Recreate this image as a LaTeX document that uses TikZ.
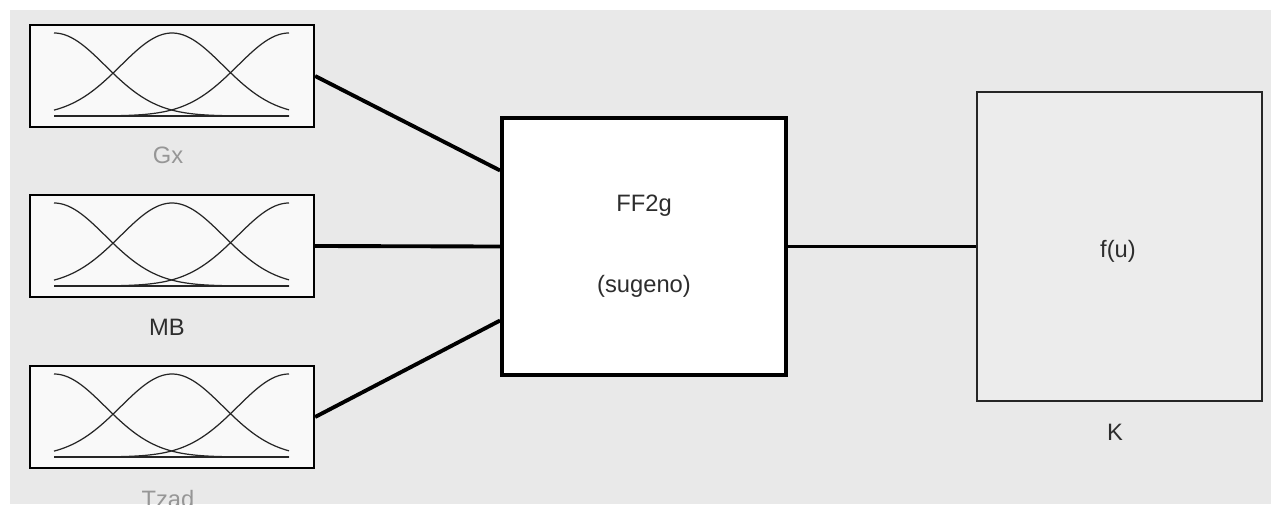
\documentclass[tikz,border=0pt]{standalone}
\usepackage{fontspec}
\setmainfont{Liberation Sans}
\usepackage{xcolor}
\usepackage{tikz}
\usetikzlibrary{positioning,calc}
\definecolor{bgcolor}{RGB}{233,233,233}
\definecolor{boxcolor}{RGB}{249,249,249}
\definecolor{fcolor}{RGB}{236,236,236}
\definecolor{dimtext}{RGB}{150,150,150}
\definecolor{darktext}{RGB}{45,45,45}

\begin{document}
\begin{tikzpicture}[x=0.02cm, y=-0.02cm,
  inbox/.style={draw, fill=boxcolor, line width=1.3pt, minimum width=5.68cm, minimum height=2.04cm, inner sep=0pt},
  fisbox/.style={draw, fill=white, line width=2.2pt, minimum width=5.68cm, minimum height=5.14cm, inner sep=0pt, align=center, font=\fontsize{13.5}{16}\selectfont, text=darktext},
  fbox/.style={draw, draw=black!85, fill=fcolor, line width=1.2pt, minimum width=5.70cm, minimum height=6.18cm, inner sep=0pt},
  lbl/.style={font=\fontsize{13.5}{16}\selectfont, anchor=base},
  wire/.style={line width=2.2pt},
  mf/.style={line width=0.7pt, black!85},
]

\useasboundingbox (0,0) rectangle (1271,504);
\fill[white] (0,0) rectangle (1271,504);
\fill[bgcolor] (10,10) rectangle (1271,504);

% ===== inputs =====
\node[inbox] (gx)   at (172,76)  {};
\node[inbox] (mb)   at (172,246) {};
\node[inbox] (tzad) at (172,417) {};

\node[lbl, text=dimtext]  (gxl)   at (168,163) {Gx};
\node[lbl, text=darktext] (mbl)   at (167,335) {MB};
\node[lbl, text=dimtext]  (tzadl) at (168,507) {Tzad};

% membership functions
\foreach \inp in {gx,mb,tzad} {
  \begin{scope}[shift={(\inp.center)}]
    \foreach \c in {-118,0,117}
      \draw[mf] plot[domain=-118:117, samples=70, smooth] (\x, {40 - 83*exp(-1.9*((\x-\c)/100)*((\x-\c)/100))});
    \draw[mf, line width=1pt] (-118,40) -- (117,40);
  \end{scope}
}

% ===== fuzzy system =====
\node[fisbox] (fis) at (644,246.5) {FF2g\\[30pt](sugeno)};

% ===== output function =====
\node[fbox] (fu) at (1119.5,246.5) {};
\node[lbl, text=darktext] (ful) at (1118,257) {f(u)};
\node[lbl, text=darktext] (kl) at (1115,440) {K};

% ===== wires =====
\coordinate (in1) at ($(fis.west)+(0,-76)$);
\coordinate (in3) at ($(fis.west)+(0,74)$);
\draw[wire] (gx.east) -- (in1);
\draw[wire] (mb.east) -- (fis.west);
\draw[wire] (tzad.east) -- (in3);
\draw[wire] (fis.east) -- (fu.west);

\end{tikzpicture}
\end{document}
